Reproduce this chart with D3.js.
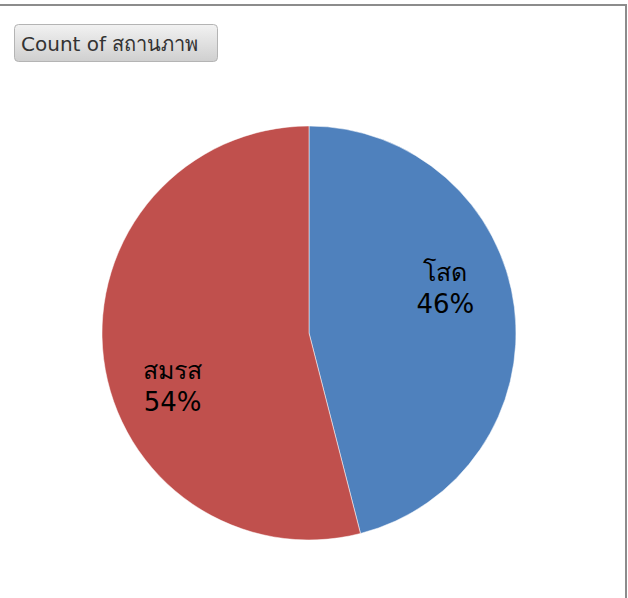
<!DOCTYPE html>
<html>
<head>
<meta charset="utf-8">
<script src="https://cdn.jsdelivr.net/npm/d3@7"></script>
<style>
  html, body { margin: 0; padding: 0; background: #fff; }
  svg { display: block; }
</style>
</head>
<body>
<svg id="chart" width="628" height="598"></svg>
<script>
const categories = ["โสด", "สมรส"];
const values = [46, 54];
const colors = ["#4F81BD", "#C0504D"];
const buttonLabel = "Count of สถานภาพ";

const width = 628;
const height = 598;
const svg = d3.select("#chart");
const font = "Tahoma, 'DejaVu Sans', 'Noto Sans', sans-serif";

// frame: only top and right edges are visible in the picture
svg.append("line")
    .attr("x1", 0).attr("x2", 627).attr("y1", 5).attr("y2", 5)
    .attr("stroke", "#8c8c8c").attr("stroke-width", 2);
svg.append("line")
    .attr("x1", 626).attr("x2", 626).attr("y1", 4).attr("y2", height)
    .attr("stroke", "#8c8c8c").attr("stroke-width", 2);

// field button
const defs = svg.append("defs");
const grad = defs.append("linearGradient")
    .attr("id", "btnGrad").attr("x1", 0).attr("x2", 0).attr("y1", 0).attr("y2", 1);
grad.append("stop").attr("offset", "0%").attr("stop-color", "#f2f2f2");
grad.append("stop").attr("offset", "100%").attr("stop-color", "#cfcfcf");

svg.append("rect")
    .attr("x", 14.5).attr("y", 24.5)
    .attr("width", 203).attr("height", 37)
    .attr("rx", 4).attr("ry", 4)
    .attr("fill", "url(#btnGrad)")
    .attr("stroke", "#b4b4b4");
svg.append("text")
    .attr("x", 21).attr("y", 51)
    .attr("font-family", font)
    .attr("font-size", 20)
    .attr("fill", "#333")
    .text(buttonLabel);

// pie
const cx = 309, cy = 333, r = 207;
const total = d3.sum(values);
const data = categories.map((c, i) => ({ name: c, value: values[i], color: colors[i] }));

const pie = d3.pie().sort(null).value(d => d.value);
const arc = d3.arc().innerRadius(0).outerRadius(r);
const labelArc = d3.arc().innerRadius(r * 0.7).outerRadius(r * 0.7);

const g = svg.append("g").attr("transform", `translate(${cx},${cy})`);
const arcs = pie(data);

g.selectAll("path")
    .data(arcs)
    .join("path")
    .attr("d", arc)
    .attr("fill", d => d.data.color)
    .attr("stroke", "#fff")
    .attr("stroke-width", 0.5);

// labels sit a little counter-clockwise of each slice's middle
const shift = 0.22;
const labels = g.selectAll("g.lbl")
    .data(arcs)
    .join("g")
    .attr("class", "lbl")
    .attr("transform", d => {
        const a = { startAngle: d.startAngle - shift, endAngle: d.endAngle - shift };
        const [x, y] = labelArc.centroid(a);
        return `translate(${x},${y})`;
    });

labels.append("text")
    .attr("text-anchor", "middle")
    .attr("y", -3)
    .attr("font-family", font)
    .attr("font-size", 25)
    .attr("fill", "#000")
    .text(d => d.data.name);

labels.append("text")
    .attr("text-anchor", "middle")
    .attr("y", 29)
    .attr("font-family", font)
    .attr("font-size", 26)
    .attr("fill", "#000")
    .text(d => Math.round(d.data.value / total * 100) + "%");
</script>
</body>
</html>
